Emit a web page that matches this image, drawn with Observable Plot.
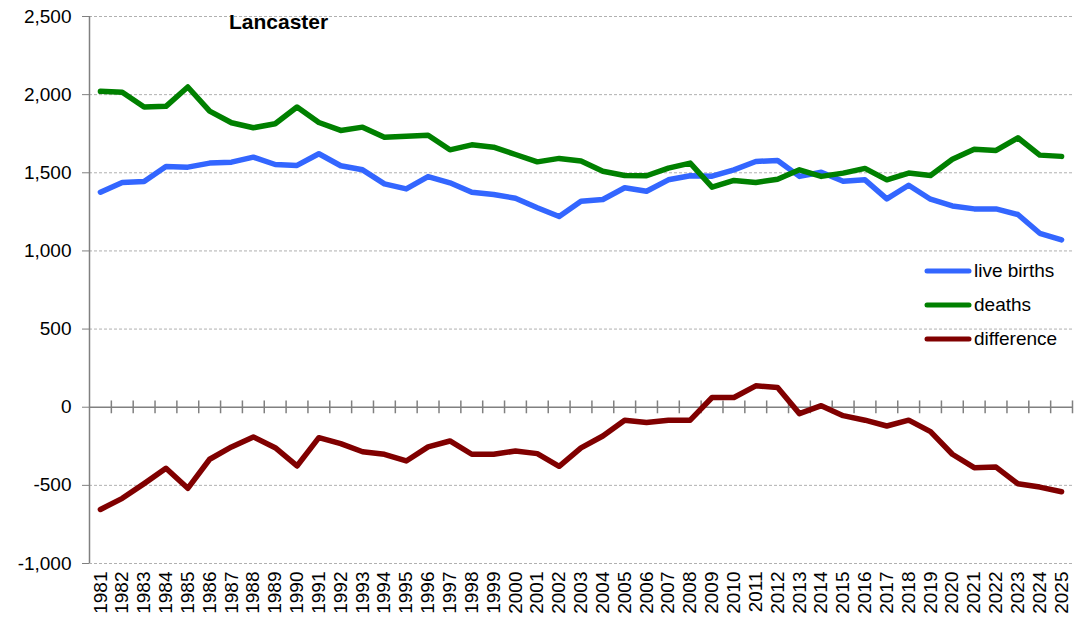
<!DOCTYPE html>
<html>
<head>
<meta charset="utf-8">
<script src="https://cdn.jsdelivr.net/npm/d3@7"></script>
<script src="https://cdn.jsdelivr.net/npm/@observablehq/plot@0.6"></script>
<style>
  html, body { margin: 0; padding: 0; background: #fff; }
  #wrap { position: relative; width: 1085px; height: 631px; font-family: "Liberation Sans", Arial, sans-serif; }
  #title { position: absolute; left: 229px; top: 10px; font-weight: bold; font-size: 21px; color: #000; }
  #legend { position: absolute; left: 924px; top: 254px; font-size: 19px; color: #000; }
  .item { display: flex; align-items: center; height: 34px; }
  .item svg { margin-right: 2px; }
</style>
</head>
<body>
<div id="wrap">
  <div id="chart"></div>
  <div id="title">Lancaster</div>
  <div id="legend"></div>
</div>
<script>
const years = [1981,1982,1983,1984,1985,1986,1987,1988,1989,1990,1991,1992,1993,1994,1995,1996,1997,1998,1999,2000,2001,2002,2003,2004,2005,2006,2007,2008,2009,2010,2011,2012,2013,2014,2015,2016,2017,2018,2019,2020,2021,2022,2023,2024,2025];
const liveBirths = [1376,1438,1444,1540,1536,1562,1568,1600,1553,1547,1622,1545,1519,1429,1397,1476,
  1436,1376,1361,1337,1276,1220,1318,1329,1404,1382,1455,1481,1478,1519,1572,
  1579,1477,1503,1446,1455,1333,1420,1331,1288,1269,1269,1233,1113,1071];
const deaths = [2021,2015,1921,1925,2049,1895,1820,1788,1814,1921,1822,1771,1792,1728,1733,1740,
  1647,1679,1664,1617,1570,1592,1575,1510,1483,1481,1530,1562,1408,1451,1438,
  1459,1519,1477,1498,1528,1455,1498,1483,1587,1651,1643,1724,1613,1605];
const difference = [-654,-583,-489,-391,-519,-333,-254,-190,-259,-376,-195,-233,-285,-301,-344,-254,-216,-301,-301,-280,-297,-378,-260,
  -184,-83,-98,-83,-83,62,62,137,126,-41,10,-54,-83,-120,-83,-156,-301,-387,-383,-490,-511,-541];
const yTicks = [-1000,-500,0,500,1000,1500,2000,2500];
const seriesNames = ["live births","deaths","difference"];
const seriesColors = ["#3366ff","#008000","#800000"];
const seriesValues = [liveBirths, deaths, difference];

const rows = [];
seriesNames.forEach((name, s) => years.forEach((yr, i) => rows.push({series: name, year: yr, value: seriesValues[s][i]})));
const boundaries = [...years.map(y => y + 0.5)];

const chart = Plot.plot({
  width: 1085,
  height: 631,
  marginLeft: 89,
  marginRight: 13,
  marginTop: 16,
  marginBottom: 68,
  style: {fontFamily: '"Liberation Sans", Arial, sans-serif', fontSize: "19px", color: "#000", background: "#fff"},
  x: {type: "linear", domain: [years[0] - 0.5, years[years.length - 1] + 0.5]},
  y: {domain: [yTicks[0], yTicks[yTicks.length - 1]]},
  color: {domain: seriesNames, range: seriesColors},
  marks: [
    Plot.ruleY(yTicks.filter(d => d !== 0), {stroke: "#b0b0b0", strokeDasharray: "3,2", strokeWidth: 1}),
    Plot.ruleY([0], {stroke: "#808080", strokeWidth: 1.5}),
    Plot.ruleX(boundaries, {y1: -42, y2: 40, stroke: "#808080", strokeWidth: 1.5}),
    Plot.ruleX([years[0] - 0.5], {stroke: "#808080", strokeWidth: 1.5}),
    Plot.axisY(yTicks, {tickSize: 7, tickPadding: 11, stroke: "#808080", fill: "#000", tickFormat: d => d.toLocaleString("en-US"), label: null}),
    Plot.axisX(years, {tickSize: 0, tickPadding: 8, tickRotate: -90, fill: "#000", tickFormat: d => String(d), label: null}),
    Plot.line(rows, {x: "year", y: "value", z: "series", stroke: "series", strokeWidth: 5.5, strokeLinejoin: "round", strokeLinecap: "round"})
  ]
});
document.getElementById("chart").appendChild(chart);

const legend = document.getElementById("legend");
seriesNames.forEach((name, i) => {
  const item = document.createElement("div");
  item.className = "item";
  item.innerHTML = `<svg width="48" height="10"><line x1="3" y1="5" x2="45" y2="5" stroke="${seriesColors[i]}" stroke-width="5" stroke-linecap="round"/></svg><span>${name}</span>`;
  legend.appendChild(item);
});
</script>
</body>
</html>
